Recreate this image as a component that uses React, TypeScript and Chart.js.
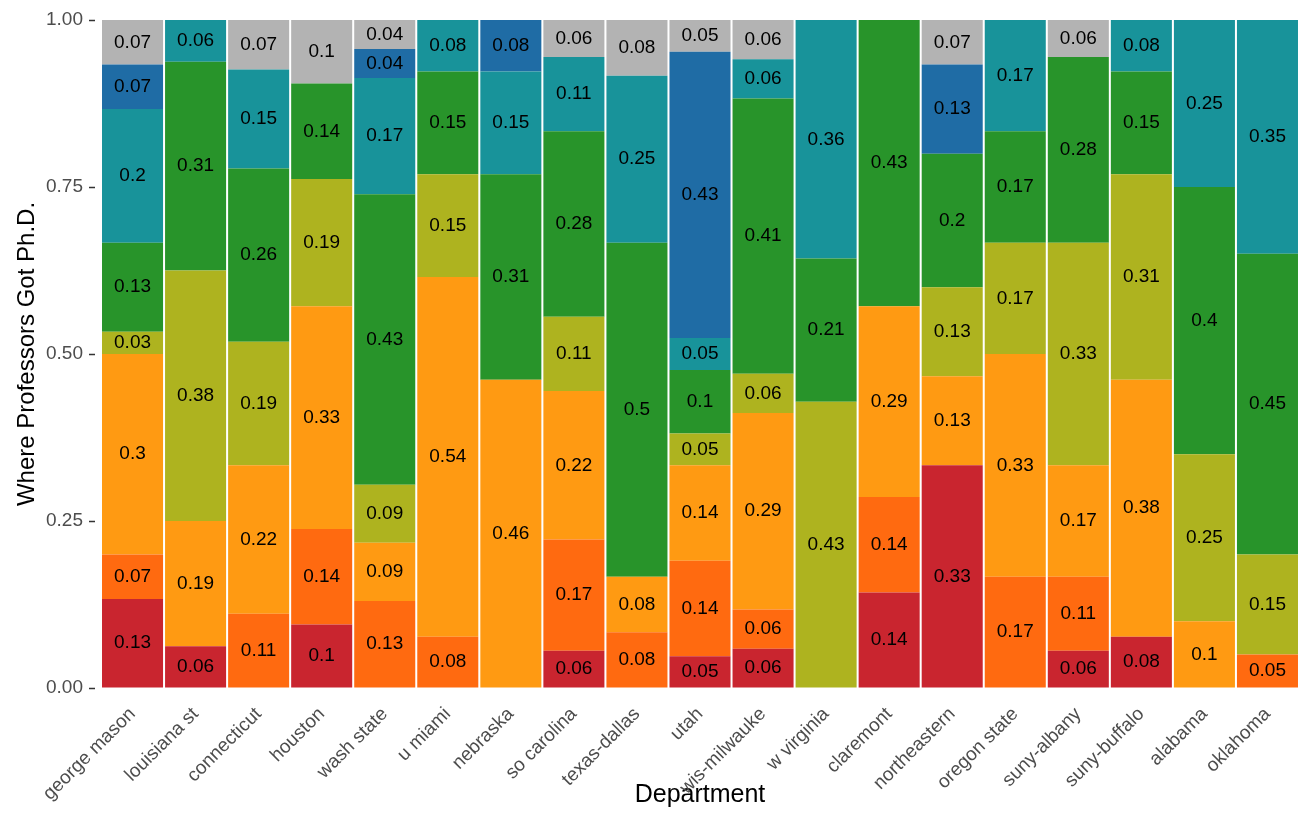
import { useEffect, useRef } from 'react';
import Chart from 'chart.js/auto';

const departments = [
  'george mason', 'louisiana st', 'connecticut', 'houston', 'wash state',
  'u miami', 'nebraska', 'so carolina', 'texas-dallas', 'utah',
  'wis-milwauke', 'w virginia', 'claremont', 'northeastern', 'oregon state',
  'suny-albany', 'suny-buffalo', 'alabama', 'oklahoma',
];

// share of professors per group, bottom to top
const red = [0.1333, 0.0625, 0, 0.0952, 0, 0, 0, 0.0556, 0, 0.0476, 0.0588, 0, 0.1429, 0.3333, 0, 0.0556, 0.0769, 0, 0];
const darkOrange = [0.0667, 0, 0.1111, 0.1429, 0.1304, 0.0769, 0, 0.1667, 0.0833, 0.1429, 0.0588, 0, 0.1429, 0, 0.1667, 0.1111, 0, 0, 0.05];
const orange = [0.3, 0.1875, 0.2222, 0.3333, 0.087, 0.5385, 0.4615, 0.2222, 0.0833, 0.1429, 0.2941, 0, 0.2857, 0.1333, 0.3333, 0.1667, 0.3846, 0.1, 0];
const olive = [0.0333, 0.375, 0.1852, 0.1905, 0.087, 0.1538, 0, 0.1111, 0, 0.0476, 0.0588, 0.4286, 0, 0.1333, 0.1667, 0.3333, 0.3077, 0.25, 0.15];
const green = [0.1333, 0.3125, 0.2593, 0.1429, 0.4348, 0.1538, 0.3077, 0.2778, 0.5, 0.0952, 0.4118, 0.2143, 0.4286, 0.2, 0.1667, 0.2778, 0.1538, 0.4, 0.45];
const teal = [0.2, 0.0625, 0.1481, 0, 0.1739, 0.0769, 0.1538, 0.1111, 0.25, 0.0476, 0.0588, 0.3571, 0, 0, 0.1667, 0, 0.0769, 0.25, 0.35];
const blue = [0.0667, 0, 0, 0, 0.0435, 0, 0.0769, 0, 0, 0.4286, 0, 0, 0, 0.1333, 0, 0, 0, 0, 0];
const gray = [0.0667, 0, 0.0741, 0.0952, 0.0435, 0, 0, 0.0556, 0.0833, 0.0476, 0.0588, 0, 0, 0.0667, 0, 0.0556, 0, 0, 0];

const yTicks = [0, 0.25, 0.5, 0.75, 1];

const series = [
  { data: red, color: '#C9252F' },
  { data: darkOrange, color: '#FF6A10' },
  { data: orange, color: '#FF9A12' },
  { data: olive, color: '#AEB31F' },
  { data: green, color: '#28942A' },
  { data: teal, color: '#18939A' },
  { data: blue, color: '#1F6CA5' },
  { data: gray, color: '#B3B3B3' },
];

const FONT = '"Liberation Sans", Arial, Helvetica, sans-serif';

// writes the rounded share in the middle of every segment
const segmentLabels = {
  id: 'segmentLabels',
  afterDatasetsDraw(chart: any) {
    const ctx = chart.ctx;
    ctx.save();
    ctx.font = `19px ${FONT}`;
    ctx.fillStyle = '#000';
    ctx.textAlign = 'center';
    ctx.textBaseline = 'middle';
    chart.data.datasets.forEach((ds: any, i: number) => {
      const meta = chart.getDatasetMeta(i);
      meta.data.forEach((bar: any, j: number) => {
        const v = ds.data[j];
        if (!v) return;
        const txt = String(Math.round(v * 100) / 100);
        ctx.fillText(txt, bar.x, (bar.y + bar.base) / 2);
      });
    });
    ctx.restore();
  },
};

const App = () => {
  const canvasRef = useRef<HTMLCanvasElement>(null);

  useEffect(() => {
    document.body.style.margin = '0';
    if (!canvasRef.current) return;

    const chart = new Chart(canvasRef.current, {
      type: 'bar',
      data: {
        labels: departments,
        datasets: series.map(s => ({
          data: s.data,
          backgroundColor: s.color,
          borderWidth: 0,
          barPercentage: 0.968,
          categoryPercentage: 1,
        })),
      },
      options: {
        responsive: false,
        animation: false,
        layout: { padding: { top: 20, right: 4, left: 0, bottom: 0 } },
        plugins: {
          legend: { display: false },
          tooltip: { enabled: false },
        },
        scales: {
          x: {
            stacked: true,
            grid: { display: false },
            border: { display: false },
            ticks: {
              color: '#4D4D4D',
              font: { family: FONT, size: 19 },
              minRotation: 45,
              maxRotation: 45,
              padding: 7,
              autoSkip: false,
            },
            title: {
              display: true,
              text: 'Department',
              color: '#000',
              font: { family: FONT, size: 25 },
              padding: { top: 0, bottom: 3 },
            },
            afterFit: (scale: any) => {
              scale.height = 125;
            },
          },
          y: {
            stacked: true,
            min: 0,
            max: 1,
            afterBuildTicks: (scale: any) => {
              scale.ticks = yTicks.map(v => ({ value: v }));
            },
            grid: {
              drawOnChartArea: false,
              drawTicks: true,
              tickLength: 12,
              tickBorderDash: [6, 6],
              tickColor: '#333333',
              tickWidth: 1.5,
            },
            border: { display: false },
            ticks: {
              color: '#4D4D4D',
              font: { family: FONT, size: 19 },
              padding: 6,
              callback: (v: any) => Number(v).toFixed(2),
            },
            title: {
              display: true,
              text: 'Where Professors Got Ph.D.',
              color: '#000',
              font: { family: FONT, size: 24 },
              padding: { top: 13, bottom: 0 },
            },
            afterFit: (scale: any) => {
              scale.width = 101;
            },
          },
        },
      },
      plugins: [segmentLabels],
    });

    return () => {
      chart.destroy();
    };
  }, []);

  return (
    <div style={{ width: 1303, height: 813, background: '#fff' }}>
      <canvas ref={canvasRef} width={1303} height={813} style={{ width: 1303, height: 813 }} />
    </div>
  );
};

export default App;
